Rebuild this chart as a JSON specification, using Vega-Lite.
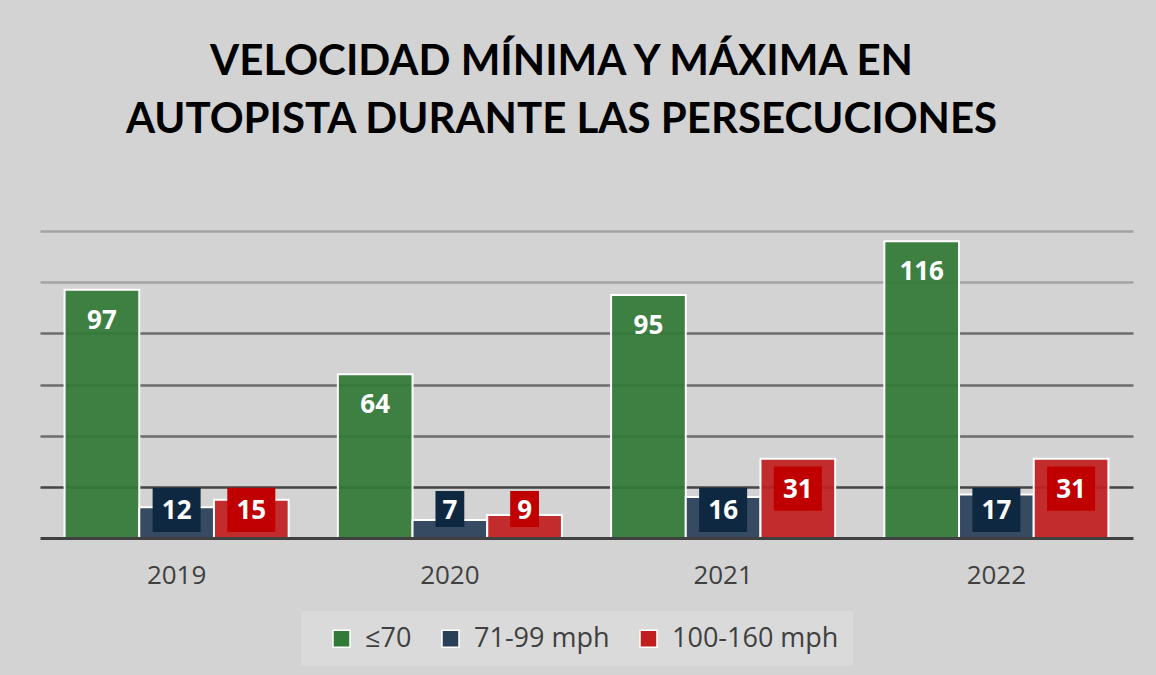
{
  "$schema": "https://vega.github.io/schema/vega-lite/v6.json",
  "width": 1093,
  "height": 307,
  "autosize": {"type": "none"},
  "padding": {"left": 40, "top": 231, "right": 23, "bottom": 137},
  "background": "#d3d3d3",
  "title": {
    "text": ["VELOCIDAD MÍNIMA Y MÁXIMA EN", "AUTOPISTA DURANTE LAS PERSECUCIONES"],
    "font": "Lato",
    "fontSize": 42,
    "fontWeight": "bold",
    "color": "#000000",
    "lineHeight": 58,
    "anchor": "middle",
    "dx": -25,
    "offset": 89
  },
  "config": {"view": {"stroke": null}},
  "data": {
    "values": [
      {"year": "2019", "series": "≤70", "value": 97},
      {"year": "2019", "series": "71-99 mph", "value": 12},
      {"year": "2019", "series": "100-160 mph", "value": 15},
      {"year": "2020", "series": "≤70", "value": 64},
      {"year": "2020", "series": "71-99 mph", "value": 7},
      {"year": "2020", "series": "100-160 mph", "value": 9},
      {"year": "2021", "series": "≤70", "value": 95},
      {"year": "2021", "series": "71-99 mph", "value": 16},
      {"year": "2021", "series": "100-160 mph", "value": 31},
      {"year": "2022", "series": "≤70", "value": 116},
      {"year": "2022", "series": "71-99 mph", "value": 17},
      {"year": "2022", "series": "100-160 mph", "value": 31}
    ]
  },
  "encoding": {
    "x": {
      "field": "year",
      "type": "nominal",
      "scale": {"paddingInner": 0.18, "paddingOuter": 0.09},
      "axis": {
        "title": null,
        "labelAngle": 0,
        "labelFont": "Open Sans",
        "labelFontSize": 26,
        "labelColor": "#404040",
        "ticks": false,
        "domainColor": "#404040",
        "domainWidth": 3,
        "labelPadding": 24,
        "zindex": 1
      }
    },
    "xOffset": {
      "field": "series",
      "type": "nominal",
      "sort": ["≤70", "71-99 mph", "100-160 mph"],
      "scale": {"paddingInner": 0, "paddingOuter": 0}
    }
  },
  "layer": [
    {
      "mark": {"type": "bar", "stroke": "white", "strokeWidth": 2, "fillOpacity": 0.93},
      "encoding": {
        "y": {
          "field": "value",
          "type": "quantitative",
          "scale": {"domain": [0, 120]},
          "axis": {
            "title": null,
            "labels": false,
            "ticks": false,
            "domain": false,
            "values": [20, 40, 60, 80, 100, 120],
            "gridWidth": 2.5,
            "gridColor": {
              "condition": [
                {"test": "datum.value >= 100", "value": "#a3a3a3"},
                {"test": "datum.value <= 20", "value": "#454545"}
              ],
              "value": "#6c6c6c"
            }
          }
        },
        "color": {
          "field": "series",
          "type": "nominal",
          "sort": ["≤70", "71-99 mph", "100-160 mph"],
          "scale": {
            "domain": ["≤70", "71-99 mph", "100-160 mph"],
            "range": ["#327a37", "#2a4058", "#c11f1f"]
          },
          "legend": {
            "orient": "none",
            "legendX": 261,
            "legendY": 380,
            "direction": "horizontal",
            "title": null,
            "fillColor": "#dadada",
            "padding": 14,
            "labelFont": "Open Sans",
            "labelFontSize": 27,
            "labelColor": "#404040",
            "labelLimit": 400,
            "symbolType": "square",
            "symbolSize": 289,
            "symbolStrokeColor": "white",
            "symbolStrokeWidth": 1.5,
            "symbolOpacity": 1,
            "symbolOffset": 13,
            "columnPadding": 12,
            "labelOffset": 10
          }
        }
      }
    },
    {
      "transform": [{"calculate": "max(datum.value, 22.7)", "as": "labelY"}],
      "mark": {"type": "point", "filled": true, "size": 2304, "strokeWidth": 0},
      "encoding": {
        "y": {"field": "labelY", "type": "quantitative"},
        "shape": {
          "condition": {"test": "datum.value < 10", "value": "M-0.6,0.46H0.6V1.96H-0.6Z"},
          "value": "M-1,0.33H1V2.17H-1Z"
        },
        "fill": {
          "condition": [
            {"test": "datum.series === '71-99 mph'", "value": "#0e2841"},
            {"test": "datum.series === '100-160 mph'", "value": "#c00000"}
          ],
          "value": "#327a37"
        },
        "opacity": {
          "condition": {"test": "datum.series === '≤70'", "value": 0},
          "value": 1
        }
      }
    },
    {
      "transform": [{"calculate": "max(datum.value, 22.7)", "as": "labelY"}],
      "mark": {
        "type": "text",
        "dy": 31,
        "baseline": "middle",
        "font": "Open Sans",
        "fontWeight": "bold",
        "fontSize": 26,
        "color": "white"
      },
      "encoding": {
        "y": {"field": "labelY", "type": "quantitative"},
        "text": {"field": "value", "type": "quantitative"}
      }
    }
  ]
}
